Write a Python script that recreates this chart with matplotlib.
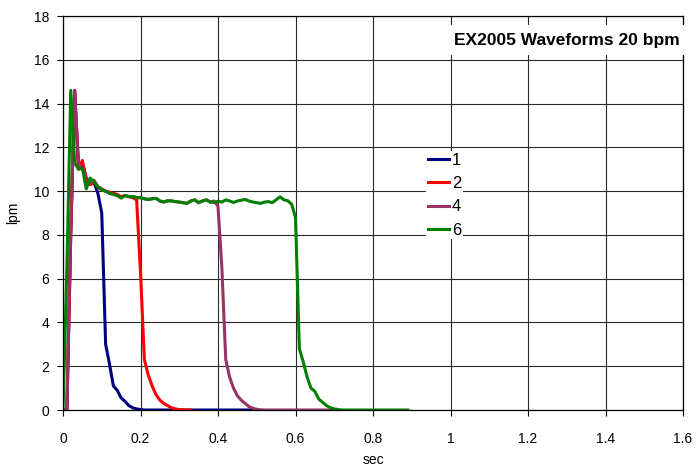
import numpy as np
import matplotlib
matplotlib.use("Agg")
import matplotlib.pyplot as plt

plt.rcParams['font.family'] = ['Liberation Sans', 'DejaVu Sans']

dt = 0.01
# Waveform samples (lpm) at 0.01 s steps
s1 = [0, 0, 8.0, 14.6, 11.1, 11.3, 10.6, 10.3, 10.4, 9.9, 9.0, 3.0, 2.1, 1.1, 0.9,
      0.55, 0.4, 0.2, 0.1, 0.05, 0.02] + [0.0] * 29
s2 = [0, 0, 8.0, 14.6, 11.0, 11.4, 10.5, 10.3, 10.4, 10.2, 10.1, 10.0, 9.95, 9.9,
      9.85, 9.75, 9.8, 9.75, 9.7, 9.6, 6.3, 2.3, 1.6, 1.1, 0.7, 0.45, 0.3, 0.2,
      0.1, 0.05, 0.02, 0.01, 0.0, 0.0]
s4 = [0, 0, 8.5, 14.6, 11.2, 11.1, 10.5, 10.4, 10.5, 10.2, 10.05, 10.0, 9.9, 9.85,
      9.8, 9.7, 9.8, 9.75, 9.75, 9.7, 9.7, 9.65, 9.62, 9.65, 9.67, 9.55, 9.5, 9.56,
      9.55, 9.52, 9.5, 9.47, 9.44, 9.55, 9.6, 9.47, 9.55, 9.6, 9.5, 9.55, 9.3, 6.5,
      2.3, 1.5, 1.0, 0.65, 0.45, 0.3, 0.15, 0.08, 0.03, 0.01] + [0.0] * 19
s6 = [0, 6.5, 14.6, 11.3, 11.0, 11.05, 10.1, 10.6, 10.4, 10.2, 10.05, 10.0, 9.9,
      9.85, 9.8, 9.68, 9.8, 9.75, 9.75, 9.7, 9.7, 9.65, 9.62, 9.65, 9.67, 9.55, 9.5,
      9.56, 9.55, 9.52, 9.5, 9.47, 9.44, 9.55, 9.6, 9.47, 9.55, 9.6, 9.5, 9.48, 9.54,
      9.5, 9.6, 9.55, 9.48, 9.55, 9.58, 9.62, 9.55, 9.5, 9.47, 9.44, 9.5, 9.52, 9.47,
      9.6, 9.74, 9.6, 9.56, 9.4, 8.8, 2.8, 2.2, 1.5, 1.0, 0.85, 0.5, 0.35, 0.2, 0.1,
      0.05, 0.02] + [0.0] * 18

series = [("1", s1, "#000080"), ("2", s2, "#FF0000"),
          ("4", s4, "#993366"), ("6", s6, "#008000")]

x_ticks = [0, 0.2, 0.4, 0.6, 0.8, 1, 1.2, 1.4, 1.6]
x_tick_labels = ["0", "0.2", "0.4", "0.6", "0.8", "1", "1.2", "1.4", "1.6"]
y_ticks = list(range(0, 19, 2))

fig = plt.figure(figsize=(6.96, 4.68), dpi=100)
ax = fig.add_axes([63 / 696, 58 / 468, 620 / 696, 394 / 468])

for name, vals, col in series:
    t = np.arange(len(vals)) * dt
    ax.plot(t, vals, color=col, lw=2.2, label=name, solid_joinstyle='round')

ax.set_xlim(0, 1.6)
ax.set_ylim(0, 18)
ax.set_xticks(x_ticks)
ax.set_xticklabels(x_tick_labels)
ax.set_yticks(y_ticks)
ax.grid(True, color='#2a2a2a', lw=0.8)
ax.set_axisbelow(True)
for sp in ax.spines.values():
    sp.set_color('black')
    sp.set_linewidth(0.9)
ax.tick_params(direction='out', length=4, width=0.8, labelsize=10, colors='black')
ax.tick_params(axis='x', pad=12)
ax.tick_params(axis='y', pad=6)
ax.set_xlabel("sec", fontsize=10, labelpad=5)
ax.set_ylabel("lpm", fontsize=10, labelpad=10)

ax.text(680 / 696, 1 - 40 / 468, "EX2005 Waveforms 20 bpm", transform=fig.transFigure,
        ha='right', va='center', fontsize=12.5, fontweight='bold', zorder=5,
        bbox=dict(boxstyle='square,pad=0.45', facecolor='white', edgecolor='none'))

leg = ax.legend(loc='upper left', bbox_to_anchor=(426 / 696, 1 - 151 / 468),
                bbox_transform=fig.transFigure, frameon=True, fontsize=12,
                handlelength=1.3, handletextpad=0.15, labelspacing=0.5,
                borderpad=0.1, borderaxespad=0, fancybox=False)
leg.get_frame().set_edgecolor('none')
leg.get_frame().set_facecolor('white')
leg.get_frame().set_alpha(1)

fig.savefig("out.png", dpi=100)
